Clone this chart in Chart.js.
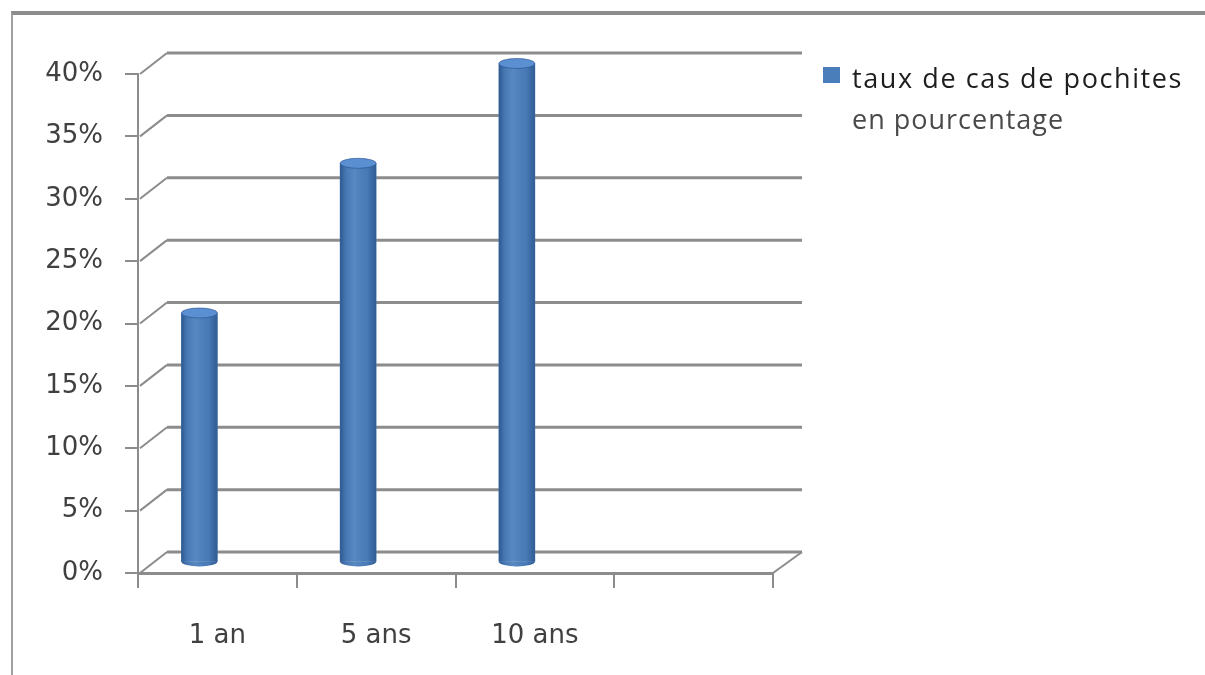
<!DOCTYPE html>
<html>
<head>
<meta charset="utf-8">
<script src="https://cdn.jsdelivr.net/npm/chart.js@4"></script>
<style>
    html, body { margin: 0; padding: 0; background: #fff; }
    #wrap { position: relative; width: 1205px; height: 675px; overflow: hidden; }
    #frame {
        position: absolute; left: 11px; top: 11px; right: -4px; bottom: -4px;
        border-top: 4px solid #8c8c8c; border-left: 2px solid #a0a0a0;
    }
    #legend {
        position: absolute; left: 823px; top: 57px;
        font-family: "Open Sans", sans-serif; font-size: 27px; letter-spacing: 1.6px;
        color: #1e1e1e;
    }
    #legend .box {
        position: absolute; left: 0; top: 10px; width: 17px; height: 16px; background: #4a7ebb;
    }
    #legend .txt { position: absolute; left: 29px; top: 0; white-space: nowrap; line-height: 41px; }
    #legend .txt span { display: block; }
    #legend .txt span + span { color: #4a4a4a; letter-spacing: 1px; }
</style>
</head>
<body>
<div id="wrap">
    <canvas id="chart"></canvas>
    <div id="frame"></div>
    <div id="legend">
        <div class="box"></div>
        <div class="txt"><span>taux de cas de pochites</span><span>en pourcentage</span></div>
    </div>
</div>
<script>
const categories = ['1 an', '5 ans', '10 ans', ''];
const tauxPochites = [20, 32, 40, null];
const yTicks = [0, 5, 10, 15, 20, 25, 30, 35, 40];

// 3D look: depth offset of the back wall, and bar placement inside the depth
const DEPTH_X = 29;
const DEPTH_Y = 21;
const BAR_SHIFT_X = -18;
const GRID = '#8c8c8c';

const threeD = {
    id: 'threeD',
    beforeDatasetsDraw(chart) {
        const ctx = chart.ctx;
        const y = chart.scales.y;
        const a = chart.chartArea;
        ctx.save();
        ctx.strokeStyle = GRID;
        yTicks.forEach(v => {
            const py = y.getPixelForValue(v);
            ctx.lineWidth = 3;
            ctx.beginPath();
            ctx.moveTo(a.left + DEPTH_X, py - DEPTH_Y);
            ctx.lineTo(a.right + DEPTH_X, py - DEPTH_Y);
            ctx.stroke();
            ctx.lineWidth = 2;
            ctx.beginPath();
            ctx.moveTo(a.left + 2, py);
            ctx.lineTo(a.left + DEPTH_X, py - DEPTH_Y);
            ctx.stroke();
        });
        // floor right edge
        const p0 = y.getPixelForValue(0);
        ctx.lineWidth = 2;
        ctx.beginPath();
        ctx.moveTo(a.right, p0);
        ctx.lineTo(a.right + DEPTH_X, p0 - DEPTH_Y);
        ctx.stroke();
        ctx.restore();

        // bars sit in the middle of the depth
        ctx.save();
        ctx.translate(BAR_SHIFT_X, -DEPTH_Y / 2);
    },
    afterDatasetsDraw(chart) {
        const ctx = chart.ctx;
        const meta = chart.getDatasetMeta(0);
        meta.data.forEach((bar, i) => {
            if (tauxPochites[i] == null) return;
            const w = bar.width;
            const x0 = bar.x - w / 2;
            const ry = 5;

            // cylinder shading
            const g = ctx.createLinearGradient(x0, 0, x0 + w, 0);
            g.addColorStop(0, 'rgba(20,50,100,0.5)');
            g.addColorStop(0.15, 'rgba(20,50,100,0.1)');
            g.addColorStop(0.4, 'rgba(255,255,255,0.08)');
            g.addColorStop(0.75, 'rgba(20,50,100,0.05)');
            g.addColorStop(1, 'rgba(20,50,100,0.45)');

            // bottom half ellipse
            ctx.fillStyle = '#4a7ebb';
            ctx.beginPath();
            ctx.ellipse(bar.x, bar.base, w / 2, ry, 0, 0, Math.PI);
            ctx.fill();
            ctx.fillStyle = g;
            ctx.fill();
            ctx.fillRect(x0, bar.y, w, bar.base - bar.y);

            // top cap
            ctx.beginPath();
            ctx.ellipse(bar.x, bar.y, w / 2, ry, 0, 0, Math.PI * 2);
            ctx.fillStyle = '#5a8fd2';
            ctx.fill();
            ctx.strokeStyle = 'rgba(40,80,140,0.6)';
            ctx.lineWidth = 1;
            ctx.stroke();
        });
        ctx.restore();
    }
};

new Chart(document.getElementById('chart'), {
    type: 'bar',
    data: {
        labels: categories,
        datasets: [{
            label: 'taux de cas de pochites en pourcentage',
            data: tauxPochites,
            backgroundColor: '#4a7ebb',
            borderWidth: 0,
            barThickness: 36
        }]
    },
    options: {
        responsive: true,
        maintainAspectRatio: false,
        animation: false,
        devicePixelRatio: 1,
        layout: { padding: { left: 0, right: 432, top: 74, bottom: 0 } },
        plugins: {
            legend: { display: false },
            tooltip: { enabled: false }
        },
        scales: {
            x: {
                afterFit: scale => { scale.height = 102; },
                border: { display: true, color: GRID, width: 3 },
                grid: {
                    display: true, drawOnChartArea: false, drawTicks: true,
                    tickLength: 15, offset: true, color: GRID, lineWidth: 2
                },
                ticks: {
                    padding: 33,
                    color: '#404040',
                    font: { family: 'DejaVu Sans', size: 26 }
                }
            },
            y: {
                min: 0,
                max: 40,
                afterFit: scale => { scale.width = 138; },
                border: { display: true, color: GRID, width: 2 },
                grid: {
                    display: true, drawOnChartArea: false, drawTicks: true,
                    tickLength: 13, color: GRID, lineWidth: 2
                },
                ticks: {
                    stepSize: 5,
                    padding: 22,
                    color: '#404040',
                    font: { family: 'DejaVu Sans', size: 26 },
                    callback: v => v + '%'
                }
            }
        }
    },
    plugins: [threeD]
});
</script>
</body>
</html>
